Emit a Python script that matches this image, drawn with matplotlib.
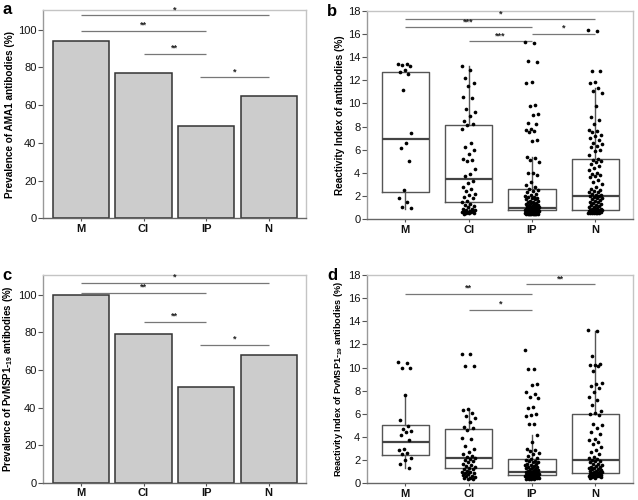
import numpy as np
import matplotlib
matplotlib.use("Agg")
import matplotlib.pyplot as plt

plt.rcParams['font.family'] = ['Liberation Sans', 'DejaVu Sans']
plt.rcParams['mathtext.fontset'] = 'custom'
plt.rcParams['mathtext.rm'] = 'Liberation Sans:bold'
plt.rcParams['mathtext.it'] = 'Liberation Sans:bold'
plt.rcParams['mathtext.bf'] = 'Liberation Sans:bold'

groups = ['M', 'CI', 'IP', 'N']

# prevalence (%)
prev_ama1 = [94, 77, 49, 65]
prev_msp1 = [100, 79, 51, 68]

# significance brackets: (from group, to group, height, label)
sig_a = [(1, 4, 107.6, '*'), (1, 3, 99.5, '**'), (2, 3, 87.4, '**'), (2.9, 4, 75.0, '*')]
sig_c = [(1, 4, 106.5, '*'), (1, 3, 101.2, '**'), (2, 3, 85.8, '**'), (2.9, 4, 73.5, '*')]
sig_b = [(1, 4, 17.3, '*'), (1, 3, 16.6, '***'), (3, 4, 16.05, '*'), (2, 3, 15.4, '***')]
sig_d = [(1, 3, 16.4, '**'), (2, 3, 15.0, '*'), (2.9, 4, 17.2, '**')]

# reactivity index, panel b (AMA1)
b_M = [13.45, 13.4, 13.35, 13.25, 12.9, 12.75, 12.55, 11.15, 7.45, 6.55, 6.15, 5.05, 2.55, 1.8, 1.5, 1.05, 0.95]
b_CI = [13.2, 12.9, 12.2, 11.8, 11.5, 10.6, 10.5, 9.5, 9.3, 8.9, 8.5, 8.2, 8.1, 7.8, 6.6, 6.2, 6.0, 5.6, 5.2,
        5.1, 5.0, 4.3, 3.9, 3.7, 3.3, 3.1, 2.8, 2.6, 2.4, 2.2, 2.1, 1.9, 1.8, 1.6, 1.5, 1.3, 1.2, 1.1, 1.0,
        0.9, 0.9, 0.8, 0.8, 0.7, 0.7, 0.7, 0.6, 0.6, 0.6, 0.5, 0.5, 0.5, 0.45]
b_IP = [15.3, 15.2, 13.65, 13.6, 11.85, 11.8, 9.85, 9.8, 9.05, 9.0, 8.3, 8.2, 7.8, 7.7, 7.6, 7.5, 6.8, 6.75,
        5.4, 5.3, 5.1, 4.95, 4.0, 3.95, 3.85, 3.2, 2.9, 2.75, 2.6, 2.5, 2.4, 2.3, 2.2, 2.1, 2.0, 1.9, 1.9,
        1.8, 1.8, 1.7, 1.7, 1.6, 1.6, 1.5, 1.5, 1.4, 1.4, 1.3, 1.3, 1.2, 1.2, 1.15, 1.1, 1.1, 1.05, 1.0,
        1.0, 1.0, 0.95, 0.95, 0.9, 0.9, 0.9, 0.85, 0.85, 0.85, 0.8, 0.8, 0.8, 0.8, 0.75, 0.75, 0.75, 0.7,
        0.7, 0.7, 0.7, 0.65, 0.65, 0.65, 0.65, 0.6, 0.6, 0.6, 0.6, 0.6, 0.55, 0.55, 0.55, 0.55, 0.5, 0.5,
        0.5, 0.5, 0.5, 0.45, 0.45, 0.45, 0.45, 0.4, 0.4, 0.4, 0.4, 0.4, 0.4]
b_N = [16.35, 16.3, 12.85, 12.8, 11.85, 11.8, 11.35, 11.1, 10.9, 9.8, 8.8, 8.6, 8.25, 7.7, 7.6, 7.5, 7.3,
       7.2, 7.0, 6.8, 6.6, 6.5, 6.3, 6.25, 6.0, 5.9, 5.5, 5.2, 5.1, 5.0, 4.95, 4.8, 4.6, 4.4, 4.2, 4.0,
       3.9, 3.8, 3.75, 3.6, 3.4, 3.2, 3.0, 2.8, 2.6, 2.5, 2.45, 2.35, 2.3, 2.2, 2.1, 2.05, 2.0, 1.95, 1.9,
       1.85, 1.8, 1.7, 1.65, 1.6, 1.5, 1.45, 1.4, 1.3, 1.25, 1.2, 1.1, 1.05, 1.0, 0.95, 0.9, 0.9, 0.85,
       0.8, 0.8, 0.75, 0.75, 0.7, 0.7, 0.7, 0.65, 0.65, 0.6, 0.6, 0.6, 0.55, 0.55, 0.55, 0.5, 0.5, 0.5, 0.5]

# reactivity index, panel d (PvMSP1-19)
d_M = [10.45, 10.4, 10.0, 9.95, 7.6, 5.45, 4.95, 4.7, 4.55, 4.4, 4.2, 3.7, 3.0, 2.9, 2.6, 2.5, 2.15, 2.0, 1.65, 1.35]
d_CI = [11.2, 11.2, 10.15, 10.1, 6.45, 6.3, 6.1, 5.8, 5.6, 5.3, 4.9, 4.75, 4.6, 3.9, 3.8, 3.2, 3.0, 2.7,
        2.5, 2.4, 2.3, 2.2, 2.1, 2.0, 1.9, 1.8, 1.7, 1.6, 1.5, 1.4, 1.3, 1.25, 1.2, 1.1, 1.0, 0.95, 0.9,
        0.85, 0.8, 0.7, 0.65, 0.6, 0.55, 0.5, 0.45, 0.4, 0.35]
d_IP = [11.5, 9.9, 9.85, 8.55, 8.5, 7.85, 7.7, 7.5, 7.35, 6.6, 6.5, 6.0, 5.9, 5.8, 5.15, 5.1, 4.15, 3.6,
        3.0, 2.9, 2.75, 2.6, 2.5, 2.35, 2.2, 2.1, 2.0, 1.95, 1.9, 1.85, 1.8, 1.7, 1.65, 1.6, 1.55, 1.5,
        1.45, 1.4, 1.35, 1.3, 1.25, 1.2, 1.15, 1.1, 1.1, 1.05, 1.0, 1.0, 0.95, 0.95, 0.9, 0.9, 0.85, 0.85,
        0.8, 0.8, 0.8, 0.75, 0.75, 0.75, 0.7, 0.7, 0.7, 0.65, 0.65, 0.65, 0.6, 0.6, 0.6, 0.6, 0.55, 0.55,
        0.55, 0.5, 0.5, 0.5, 0.5, 0.45, 0.45, 0.45, 0.4, 0.4, 0.4, 0.4]
d_N = [13.25, 13.2, 11.0, 10.35, 10.25, 10.2, 10.1, 9.7, 8.7, 8.55, 8.45, 8.2, 7.85, 7.5, 7.2, 6.8, 6.25,
       6.1, 6.0, 5.9, 5.1, 5.05, 4.8, 4.4, 4.3, 3.8, 3.7, 3.6, 3.4, 3.1, 2.9, 2.7, 2.5, 2.3, 2.2, 2.1, 2.0,
       1.95, 1.9, 1.8, 1.7, 1.65, 1.6, 1.5, 1.45, 1.4, 1.35, 1.3, 1.25, 1.2, 1.15, 1.1, 1.05, 1.0, 1.0,
       0.95, 0.9, 0.9, 0.85, 0.8, 0.8, 0.75, 0.75, 0.7, 0.7, 0.65, 0.65, 0.6, 0.6, 0.6, 0.55, 0.55, 0.5, 0.5]

# box summaries
b_q1 = [2.35, 1.5, 0.75, 0.8]
b_med = [6.95, 3.5, 0.95, 2.0]
b_q3 = [12.75, 8.1, 2.6, 5.15]
b_lo = [0.9, 0.45, 0.4, 0.5]
b_hi = [12.75, 13.2, 5.4, 11.3]

d_q1 = [2.45, 1.3, 0.7, 0.85]
d_med = [3.6, 2.2, 1.0, 2.0]
d_q3 = [5.05, 4.65, 2.1, 6.0]
d_lo = [1.3, 0.35, 0.4, 0.5]
d_hi = [7.6, 6.4, 4.15, 13.2]

DARK = '#555555'
MID = '#999999'
LIGHT = '#c4c4c4'


def style_axes(ax, ymax):
    ax.set_xlim(0.4, 4.6)
    ax.set_ylim(0, ymax)
    ax.set_xticks(range(1, 5))
    ax.set_xticklabels(groups, fontweight='bold', fontsize=8)
    ax.spines['bottom'].set_color('#666666')
    ax.spines['left'].set_color(MID)
    for s in ['top', 'right']:
        ax.spines[s].set_color(LIGHT)
    for s in ax.spines:
        ax.spines[s].set_linewidth(1.0)
    ax.tick_params(axis='both', colors=DARK, width=0.8, labelcolor='#111111')
    ax.tick_params(axis='y', labelsize=8, length=3.5, pad=1.5)
    ax.tick_params(axis='x', length=2.5, pad=1.5)


def add_sig(ax, sig, ymax):
    for x0, x1, h, lab in sig:
        ax.plot([x0, x1], [h, h], color='#777777', lw=0.9, solid_capstyle='butt')
        ax.text((x0 + x1) / 2, h + ymax * 0.004, lab, ha='center', va='bottom', fontsize=6.5,
                fontweight='bold', color='#222222')


def bar_panel(ax, vals, sig, ylabel, letter, lsize=7.2):
    ax.bar(range(1, 5), vals, width=0.9, color='#cccccc', edgecolor='#333333', linewidth=1.1)
    style_axes(ax, 110.5)
    ax.set_yticks(np.arange(0, 101, 20))
    add_sig(ax, sig, 110.5)
    ax.set_ylabel(ylabel, fontsize=lsize, fontweight='bold', labelpad=2)
    ax.text(-0.155, 1.0, letter, transform=ax.transAxes, fontsize=12, fontweight='bold', va='center')


def box_panel(ax, pts, q1, med, q3, lo, hi, sig, ylabel, letter, lsize=7.2):
    stats = []
    for i in range(4):
        stats.append(dict(med=med[i], q1=q1[i], q3=q3[i], whislo=lo[i], whishi=hi[i], fliers=[]))
    ax.bxp(stats, positions=range(1, 5), widths=0.75, showcaps=False, showfliers=False,
           boxprops=dict(color=DARK, lw=1.0), whiskerprops=dict(color=DARK, lw=1.0),
           medianprops=dict(color='#444444', lw=1.6))
    for i, vals in enumerate(pts):
        n = len(vals)
        jit = [((k * 0.618034) % 1 - 0.5) * 0.22 for k in range(n)]
        ax.scatter(np.array(jit) + i + 1, vals, s=7, color='black', zorder=3, linewidths=0)
    style_axes(ax, 18)
    ax.set_yticks(np.arange(0, 19, 2))
    add_sig(ax, sig, 18)
    ax.set_ylabel(ylabel, fontsize=lsize, fontweight='bold', labelpad=2)
    ax.text(-0.15, 1.0, letter, transform=ax.transAxes, fontsize=12, fontweight='bold', va='center')


fig = plt.figure(figsize=(6.38, 5.0), dpi=100)
ax_a = fig.add_axes([0.068, 0.5634, 0.412, 0.4166])
ax_b = fig.add_axes([0.5757, 0.562, 0.417, 0.416])
ax_c = fig.add_axes([0.068, 0.0346, 0.412, 0.415])
ax_d = fig.add_axes([0.5757, 0.0334, 0.417, 0.4166])

bar_panel(ax_a, prev_ama1, sig_a, 'Prevalence of AMA1 antibodies (%)', 'a')
bar_panel(ax_c, prev_msp1, sig_c, 'Prevalence of PvMSP1-$_{19}$ antibodies (%)', 'c', lsize=7.0)
box_panel(ax_b, [b_M, b_CI, b_IP, b_N], b_q1, b_med, b_q3, b_lo, b_hi, sig_b,
          'Reactivity Index of antibodies (%)', 'b')
box_panel(ax_d, [d_M, d_CI, d_IP, d_N], d_q1, d_med, d_q3, d_lo, d_hi, sig_d,
          'Reactivity Index of PvMSP1-$_{19}$ antibodies (%)', 'd', lsize=6.6)

fig.savefig('out.png', dpi=100)
